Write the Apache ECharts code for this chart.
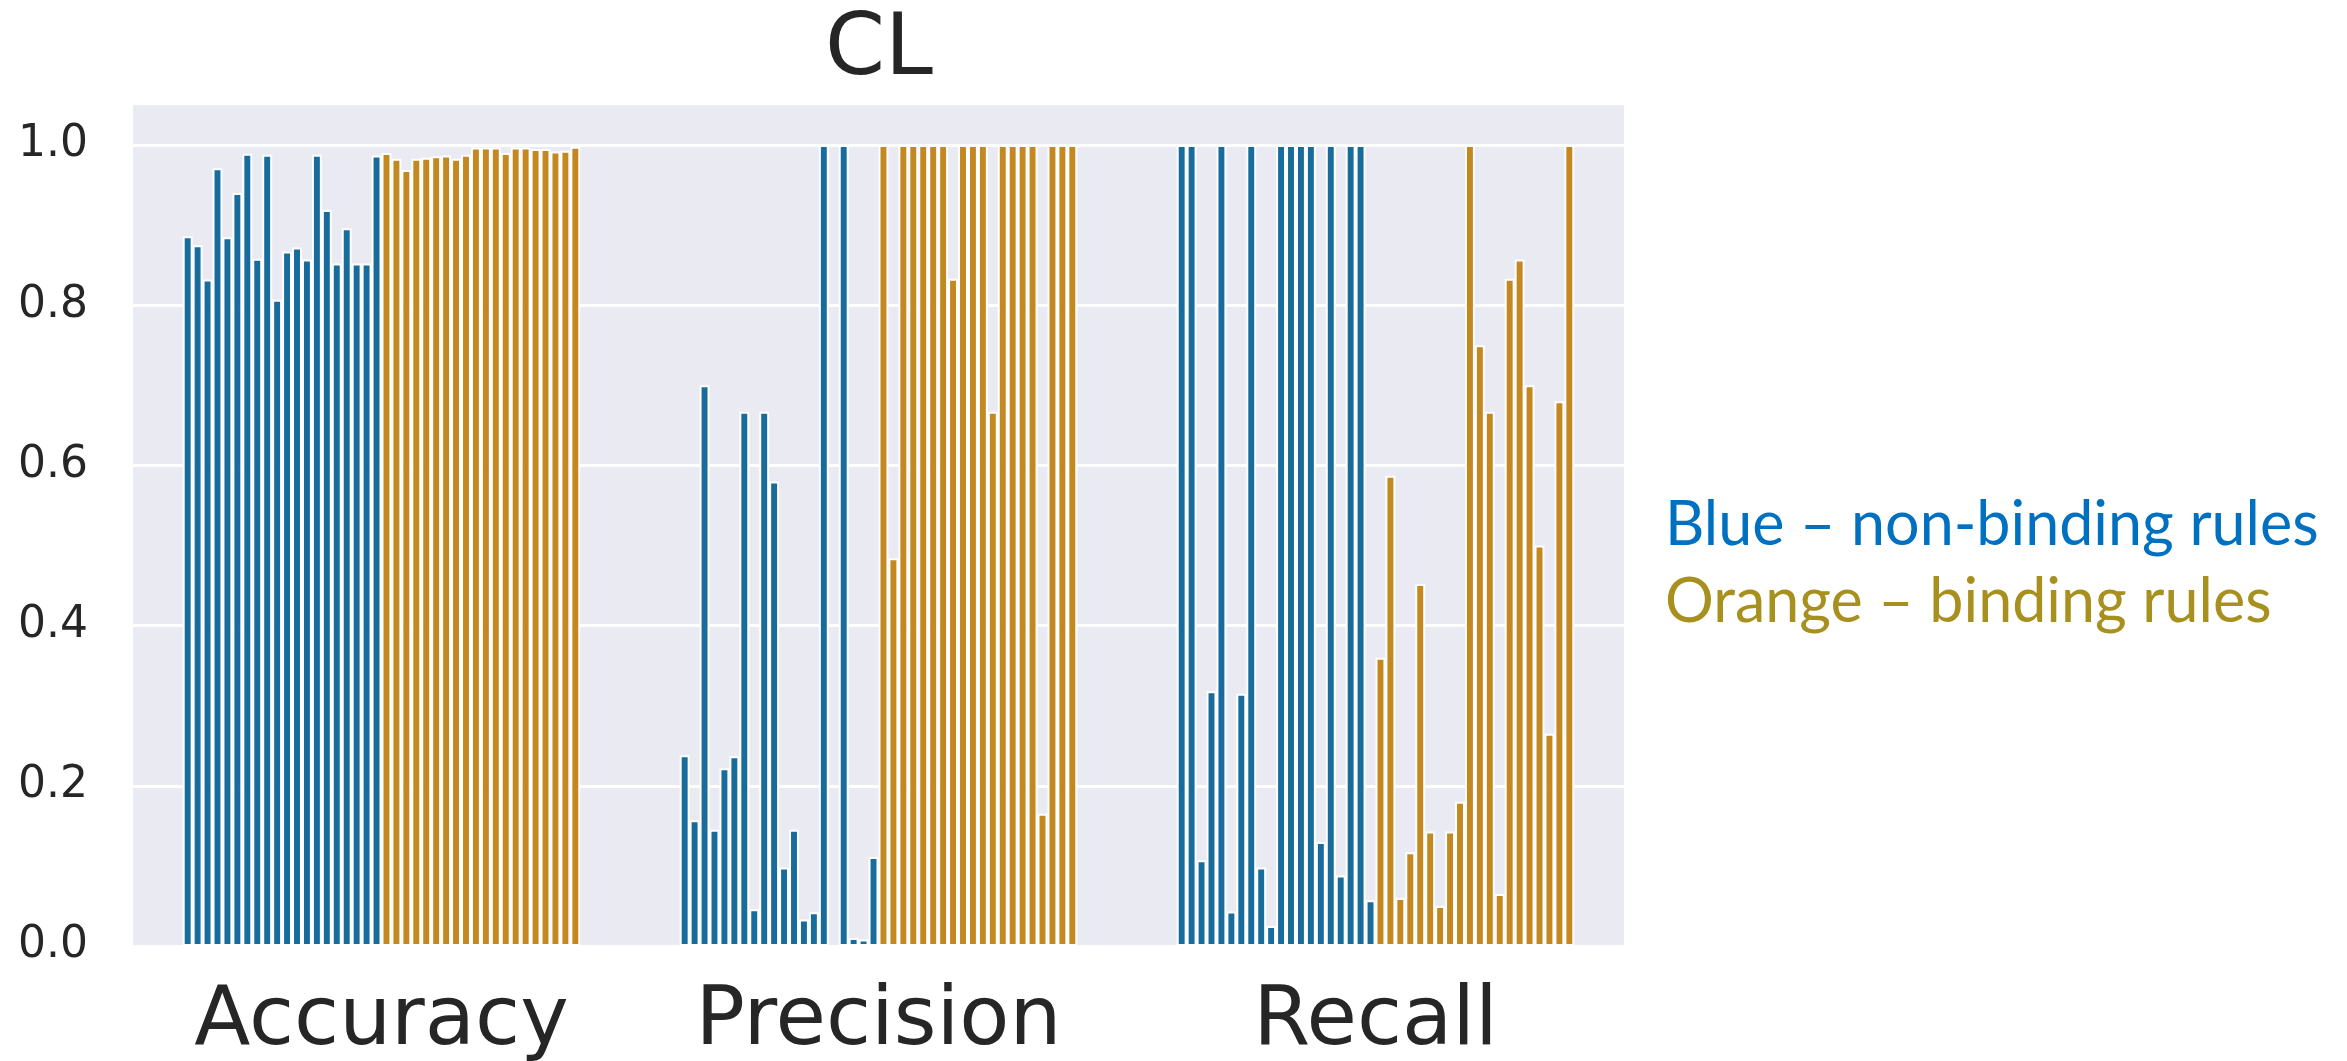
<!DOCTYPE html>
<html>
<head>
<meta charset="utf-8">
<script src="https://cdn.jsdelivr.net/npm/echarts@6/dist/echarts.min.js"></script>
<style>
html,body{margin:0;padding:0;background:#fff;}
#chart{width:2347px;height:1061px;}
</style>
</head>
<body>
<div id="chart"></div>
<script>
// Categories
const metrics = ['Accuracy', 'Precision', 'Recall'];
const yTicks = [0, 0.2, 0.4, 0.6, 0.8, 1.0];

// Blue = non-binding rules (20 rules), Orange = binding rules (20 rules)
const accBlue = [0.886,0.875,0.832,0.971,0.885,0.940,0.989,0.858,0.988,0.807,0.867,0.872,0.857,0.988,0.919,0.852,0.896,0.852,0.852,0.987];
const accOrange = [0.990,0.983,0.969,0.983,0.984,0.986,0.987,0.983,0.988,0.997,0.997,0.997,0.990,0.997,0.997,0.995,0.995,0.992,0.993,0.998];

const precBlue = [0.238,0.157,0.700,0.145,0.222,0.237,0.667,0.046,0.667,0.580,0.098,0.145,0.033,0.042,1.0,0,1.0,0.010,0.008,0.111];
const precOrange = [1.0,0.484,1.0,1.0,1.0,1.0,1.0,0.833,1.0,1.0,1.0,0.667,1.0,1.0,1.0,1.0,0.165,1.0,1.0,1.0];

const recBlue = [1.0,1.0,0.107,0.318,1.0,0.043,0.315,1.0,0.098,0.025,1.0,1.0,1.0,1.0,0.130,1.0,0.088,1.0,1.0,0.057];
const recOrange = [0.360,0.587,0.060,0.117,0.452,0.143,0.050,0.143,0.180,1.0,0.750,0.667,0.065,0.833,0.857,0.700,0.500,0.265,0.680,1.0];

const blueColor = '#176C9C';
const orangeColor = '#C38820';

const accAll = accBlue.concat(accOrange);
const precAll = precBlue.concat(precOrange);
const recAll = recBlue.concat(recOrange);

const series = [];
for (let i = 0; i < accAll.length; i++) {
  series.push({
    type: 'bar',
    name: 'rule' + (i + 1),
    data: [accAll[i], precAll[i], recAll[i]],
    barGap: '0%',
    barCategoryGap: '20%',
    itemStyle: {
      color: i < accBlue.length ? blueColor : orangeColor,
      borderColor: '#ffffff',
      borderWidth: 2
    },
    emphasis: {disabled: true},
    animation: false
  });
}

const chart = echarts.init(document.getElementById('chart'), null, {renderer: 'canvas'});
chart.setOption({
  animation: false,
  backgroundColor: '#ffffff',
  title: {
    text: 'CL',
    left: 820,
    top: 4,
    textStyle: {fontFamily: 'DejaVu Sans', fontSize: 86, fontWeight: 'normal', color: '#262626'}
  },
  grid: {
    left: 133, top: 105, width: 1491, height: 841,
    outerBoundsMode: 'none', containLabel: false,
    show: true, backgroundColor: '#EAEAF2', borderWidth: 0
  },
  xAxis: {
    type: 'category',
    data: metrics,
    axisLine: {show: false},
    axisTick: {show: false},
    splitLine: {show: false},
    axisLabel: {
      fontFamily: 'DejaVu Sans', fontSize: 82, color: '#262626', margin: 36
    }
  },
  yAxis: {
    type: 'value',
    min: 0, max: 1.05, interval: 0.2,
    axisLine: {show: false},
    axisTick: {show: false},
    splitLine: {show: true, showMaxLine: false, lineStyle: {color: '#ffffff', width: 3}},
    axisLabel: {
      showMaxLabel: false,
      fontFamily: 'DejaVu Sans', fontSize: 44, color: '#262626', margin: 45,
      formatter: function (v) {
        return yTicks.some(t => Math.abs(t - v) < 1e-9) ? v.toFixed(1) : '';
      }
    }
  },
  graphic: [
    {
      type: 'text', left: 1665, top: 495,
      style: {text: 'Blue \u2013 non-binding rules', fontFamily: 'Lato', fontSize: 61, fill: '#0070C0'}
    },
    {
      type: 'text', left: 1665, top: 572,
      style: {text: 'Orange \u2013 binding rules', fontFamily: 'Lato', fontSize: 61, fill: '#A8901E'}
    }
  ],
  series: series
});
</script>
</body>
</html>
